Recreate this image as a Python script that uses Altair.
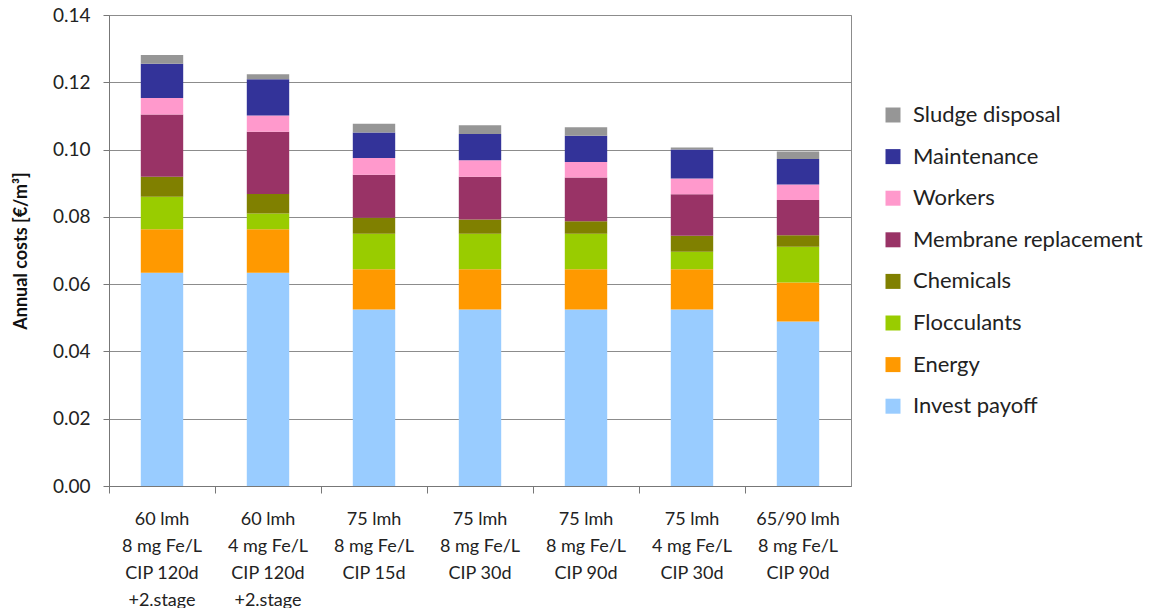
import altair as alt
import pandas as pd

categories = [
    "60 lmh|8 mg Fe/L|CIP 120d|+2.stage",
    "60 lmh|4 mg Fe/L|CIP 120d|+2.stage",
    "75 lmh|8 mg Fe/L|CIP 15d",
    "75 lmh|8 mg Fe/L|CIP 30d",
    "75 lmh|8 mg Fe/L|CIP 90d",
    "75 lmh|4 mg Fe/L|CIP 30d",
    "65/90 lmh|8 mg Fe/L|CIP 90d",
]

# components, bottom to top
invest_payoff = [0.0634, 0.0634, 0.0525, 0.0525, 0.0525, 0.0525, 0.0489]
energy = [0.0129, 0.0129, 0.0119, 0.0119, 0.0119, 0.0119, 0.0116]
flocculants = [0.0097, 0.0047, 0.0106, 0.0106, 0.0106, 0.0052, 0.0106]
chemicals = [0.0059, 0.0058, 0.0047, 0.0042, 0.0037, 0.0048, 0.0034]
membrane_replacement = [0.0185, 0.0185, 0.0128, 0.0127, 0.0130, 0.0123, 0.0105]
workers = [0.0049, 0.0048, 0.0050, 0.0049, 0.0046, 0.0047, 0.0046]
maintenance = [0.0102, 0.0108, 0.0076, 0.0078, 0.0078, 0.0086, 0.0076]
sludge_disposal = [0.0026, 0.0015, 0.0026, 0.0026, 0.0025, 0.0006, 0.0022]

series_names = ["Invest payoff", "Energy", "Flocculants", "Chemicals",
                "Membrane replacement", "Workers", "Maintenance", "Sludge disposal"]
series_values = [invest_payoff, energy, flocculants, chemicals,
                 membrane_replacement, workers, maintenance, sludge_disposal]
series_colors = ["#99CCFF", "#FF9900", "#99CC00", "#808000",
                 "#993366", "#FF99CC", "#333399", "#969696"]

rows = []
for si, (name, vals) in enumerate(zip(series_names, series_values)):
    for c, v in zip(categories, vals):
        rows.append({"scenario": c, "component": name, "value": v, "order": si})
df = pd.DataFrame(rows)

font = "Lato"

chart = alt.Chart(df).mark_bar(width=alt.RelativeBandSize(0.4)).encode(
    x=alt.X("scenario:N", sort=categories, title=None,
            scale=alt.Scale(paddingInner=0, paddingOuter=0),
            axis=alt.Axis(labelExpr="split(datum.label, '|')", labelAngle=0,
                          labelFontSize=18, labelLineHeight=27, labelPadding=17,
                          labelColor="#222", labelFont=font,
                          bandPosition=0, tickSize=7, tickColor="#777",
                          domainColor="#777", grid=False)),
    y=alt.Y("value:Q", stack="zero",
            scale=alt.Scale(domain=[0, 0.14], nice=False),
            axis=alt.Axis(values=[0, 0.02, 0.04, 0.06, 0.08, 0.1, 0.12, 0.14],
                          format=".2f", labelFontSize=19, labelColor="#222",
                          labelFont=font, tickSize=6, tickColor="#777",
                          domainColor="#777", gridColor="#8c8c8c",
                          title="Annual costs [€/m³]", titleFontSize=18,
                          titleFont=font, titleFontWeight="bold", titleColor="#111",
                          titlePadding=22, labelPadding=13)),
    color=alt.Color("component:N",
                    scale=alt.Scale(domain=series_names[::-1], range=series_colors[::-1]),
                    legend=alt.Legend(title=None, orient="none", legendX=773, legendY=89,
                                      symbolType="square", symbolSize=225,
                                      symbolStrokeWidth=0, labelFontSize=22,
                                      labelFont=font, labelColor="#222",
                                      rowPadding=19.6, labelOffset=9,
                                      labelLimit=400, padding=0)),
    order=alt.Order("order:Q", sort="ascending"),
).properties(
    width=742, height=471,
    autosize=alt.AutoSizeParams(type="none"),
    padding={"top": 7, "left": 101, "right": 300, "bottom": 122},
).configure_view(stroke="#8c8c8c", strokeWidth=1)

chart.save("out.html", embed_options={"renderer": "svg", "actions": False})
